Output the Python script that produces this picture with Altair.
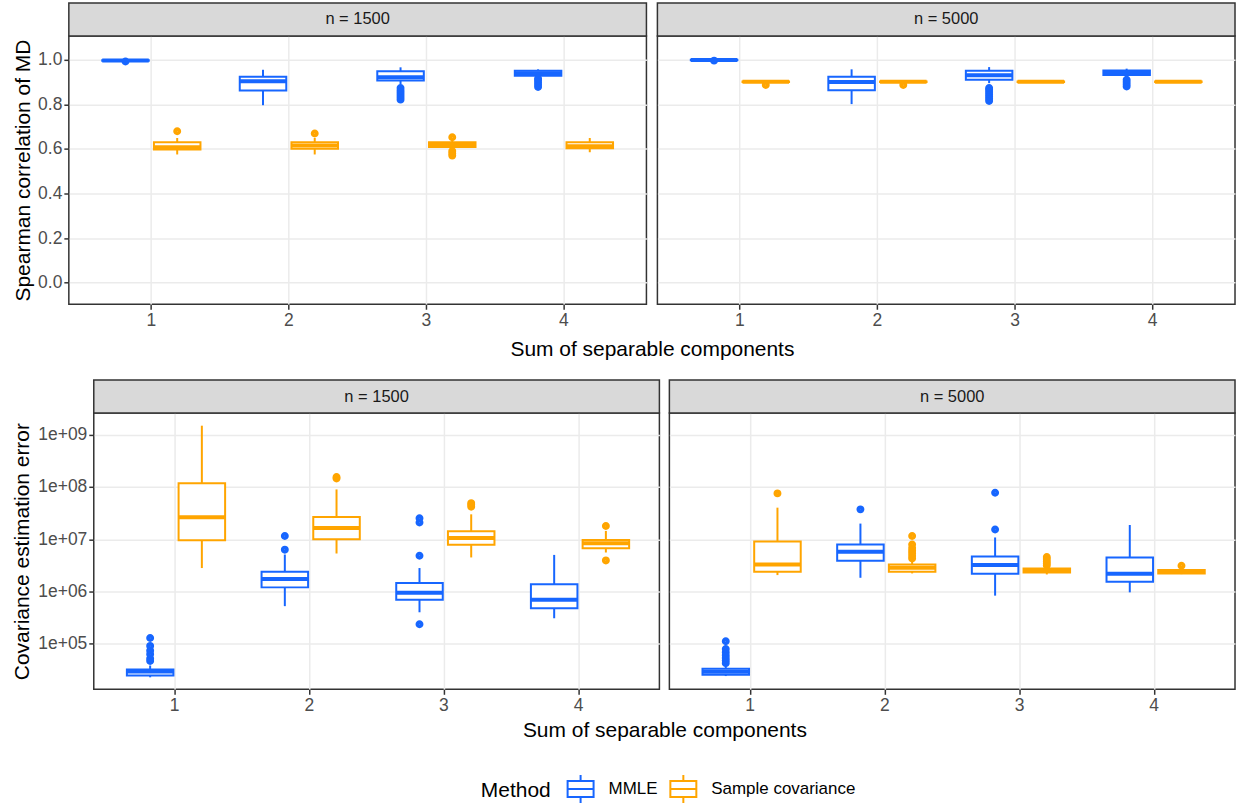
import altair as alt
import pandas as pd

# ---------------- data ----------------
COMPS = [1, 2, 3, 4]
METHODS = ["MMLE", "Sample covariance"]
NS = ["n = 1500", "n = 5000"]
COLORS = ["#1766FF", "#FFA500"]

# Spearman correlation of MD: box statistics per component 1..4
sp_1500_mmle = dict(lo=[0.993, 0.796, 0.890, 0.920], q1=[0.995, 0.862, 0.907, 0.928],
                    med=[0.997, 0.904, 0.921, 0.939], q3=[0.998, 0.924, 0.948, 0.951],
                    hi=[1.000, 0.955, 0.966, 0.957],
                    out=[[0.992], [], [0.821, 0.832, 0.842, 0.852, 0.862, 0.873], [0.878, 0.888, 0.898, 0.908, 0.916]])
sp_1500_samp = dict(lo=[0.575, 0.575, 0.600, 0.585], q1=[0.597, 0.601, 0.609, 0.603],
                    med=[0.607, 0.615, 0.619, 0.612], q3=[0.630, 0.630, 0.630, 0.630],
                    hi=[0.649, 0.649, 0.640, 0.649],
                    out=[[0.679], [0.669], [0.652, 0.590, 0.580, 0.570], []])
sp_5000_mmle = dict(lo=[0.996, 0.801, 0.895, 0.925], q1=[0.998, 0.863, 0.910, 0.931],
                    med=[0.999, 0.900, 0.930, 0.942], q3=[1.000, 0.924, 0.951, 0.952],
                    hi=[1.000, 0.957, 0.967, 0.960],
                    out=[[0.996], [], [0.815, 0.825, 0.835, 0.845, 0.855, 0.865, 0.873], [0.880, 0.890, 0.900, 0.910]])
sp_5000_samp = dict(lo=[0.898, 0.898, 0.898, 0.898], q1=[0.900, 0.900, 0.900, 0.900],
                    med=[0.901, 0.901, 0.901, 0.901], q3=[0.902, 0.902, 0.902, 0.902],
                    hi=[0.903, 0.903, 0.904, 0.904],
                    out=[[0.887], [0.887], [], []])

# Covariance estimation error: box statistics per component 1..4
ce_1500_mmle = dict(lo=[2.29e4, 5.25e5, 4.01e5, 3.08e5], q1=[2.48e4, 1.20e6, 6.98e5, 4.78e5],
                    med=[2.95e4, 1.74e6, 9.51e5, 6.98e5], q3=[3.24e4, 2.39e6, 1.45e6, 1.37e6],
                    hi=[3.85e4, 5.09e6, 2.81e6, 5.01e6],
                    out=[[4.68e4, 5.25e4, 6.31e4, 7.41e4, 9.12e4, 1.29e5], [6.31e6, 1.15e7],
                         [2.37e5, 4.82e6, 2.09e7, 2.51e7], []])
ce_1500_samp = dict(lo=[2.81e6, 5.33e6, 4.48e6, 5.57e6], q1=[9.57e6, 1.00e7, 7.80e6, 6.75e6],
                    med=[2.62e7, 1.64e7, 1.06e7, 8.39e6], q3=[1.17e8, 2.66e7, 1.42e7, 9.70e6],
                    hi=[1.48e9, 8.95e7, 2.99e7, 1.44e7],
                    out=[[], [1.45e8, 1.55e8], [4.17e7, 4.57e7, 4.90e7], [3.93e6, 1.79e7]])
ce_5000_mmle = dict(lo=[2.42e4, 1.83e6, 8.34e5, 9.64e5], q1=[2.57e4, 3.86e6, 2.19e6, 1.54e6],
                    med=[2.93e4, 5.74e6, 3.20e6, 2.19e6], q3=[3.34e4, 7.91e6, 4.68e6, 4.48e6],
                    hi=[3.86e4, 1.99e7, 1.08e7, 1.87e7],
                    out=[[4.27e4, 4.79e4, 5.37e4, 6.03e4, 6.92e4, 7.94e4, 1.12e5], [3.72e7],
                         [1.53e7, 7.74e7], []])
ce_5000_samp = dict(lo=[2.06e6, 2.22e6, 2.12e6, 2.15e6], q1=[2.39e6, 2.39e6, 2.32e6, 2.22e6],
                    med=[3.29e6, 2.84e6, 2.53e6, 2.39e6], q3=[9.04e6, 3.29e6, 2.76e6, 2.57e6],
                    hi=[4.01e7, 3.86e6, 2.88e6, 2.69e6],
                    out=[[7.52e7], [4.27e6, 4.79e6, 5.37e6, 6.03e6, 6.76e6, 7.94e6, 1.15e7],
                         [3.16e6, 3.47e6, 3.80e6, 4.17e6, 4.57e6], [3.10e6]])

SP_TICKS = [0.0, 0.2, 0.4, 0.6, 0.8, 1.0]
CE_TICKS = [1e5, 1e6, 1e7, 1e8, 1e9]
X_TITLE = "Sum of separable components"


def table(groups):
    rows = []
    for n, method, st in groups:
        for i, c in enumerate(COMPS):
            rows.append(dict(n=n, method=method, comp=c, lo=st["lo"][i], q1=st["q1"][i],
                             med=st["med"][i], q3=st["q3"][i], hi=st["hi"][i], out=st["out"][i]))
    return pd.DataFrame(rows)


sp_df = table([(NS[0], METHODS[0], sp_1500_mmle), (NS[0], METHODS[1], sp_1500_samp),
               (NS[1], METHODS[0], sp_5000_mmle), (NS[1], METHODS[1], sp_5000_samp)])
ce_df = table([(NS[0], METHODS[0], ce_1500_mmle), (NS[0], METHODS[1], ce_1500_samp),
               (NS[1], METHODS[0], ce_5000_mmle), (NS[1], METHODS[1], ce_5000_samp)])

FONT = "Liberation Sans"
STRIP_H = 33

LEGEND = alt.Legend(
    orient="none", direction="horizontal", titleOrient="left", legendX=475, legendY=740,
    symbolType="M-0.93,-0.57H0.93V0.57H-0.93Z M-0.93,0H0.93 M0,-0.57V-1 M0,0.57V1",
    symbolSize=784, symbolStrokeWidth=2, symbolFillColor="white", symbolOpacity=1,
    labelFontSize=17, titleFontSize=21, labelFont=FONT, titleFont=FONT, titlePadding=14,
    labelOffset=13, columnPadding=7, titleFontWeight="normal", titleColor="black",
    labelColor="black", titleBaseline="middle")


def panel(df, n, W, H, spacing, ytitle, yscale, yaxis, xtitle, xpad):
    base = alt.Chart(df).transform_filter(alt.datum.n == n)
    xaxis_kw = dict(labelAngle=0, grid=True, bandPosition=0.5, titlePadding=xpad)
    if xtitle:
        xaxis_kw.update(titleX=W + spacing / 2, titleAlign="center", titleAnchor="middle")
    x = alt.X("comp:O", title=xtitle,
              scale=alt.Scale(paddingInner=0, paddingOuter=0.1),
              axis=alt.Axis(**xaxis_kw))
    xo = alt.XOffset("method:N", scale=alt.Scale(domain=METHODS, paddingInner=0.1, paddingOuter=0.38))
    stroke = alt.Stroke("method:N", title="Method",
                        scale=alt.Scale(domain=METHODS, range=COLORS), legend=LEGEND)
    ylo = alt.Y("lo:Q", title=ytitle, scale=yscale, axis=yaxis)

    whisk = base.mark_rule(strokeWidth=2).encode(x=x, xOffset=xo, y=ylo, y2="hi:Q", stroke=stroke)
    box = base.mark_bar(fill="white", strokeWidth=2).encode(
        x=x, xOffset=xo, y="q1:Q", y2="q3:Q", stroke=stroke)
    med = base.mark_bar(fill="white", fillOpacity=0, strokeWidth=4).encode(
        x=x, xOffset=xo, y="med:Q", y2="med:Q", stroke=stroke)
    pts = base.transform_flatten(["out"]).mark_point(
        shape="circle", filled=False, size=14, strokeWidth=4.2, opacity=1
    ).encode(x=x, xOffset=xo, y="out:Q", stroke=stroke)
    agg = base.transform_aggregate(cnt="count()", groupby=["n"])
    strip = agg.mark_rect(fill="#D9D9D9", stroke="#333333", strokeWidth=1.5).encode(
        x=alt.value(0), x2=alt.value(W), y=alt.value(-STRIP_H), y2=alt.value(0))
    strip_txt = agg.mark_text(fontSize=16.5, color="#1A1A1A", font=FONT, baseline="middle").encode(
        text="n:N", x=alt.value(W / 2), y=alt.value(-STRIP_H / 2))
    return alt.layer(whisk, box, med, pts, strip, strip_txt).properties(width=W, height=H)


SPACER = alt.Chart(pd.DataFrame({"v": [0]})).mark_point(opacity=0).encode(
    x=alt.X("v:Q", axis=None), y=alt.Y("v:Q", axis=None)
).properties(width=1, height=1, view=alt.ViewBackground(stroke="transparent"))


def row(df, W, H, spacing, ytitle, yscale, axis_kw, xpad):
    left = panel(df, NS[0], W, H, spacing, ytitle, yscale, alt.Axis(grid=True, **axis_kw), X_TITLE, xpad)
    right = panel(df, NS[1], W, H, spacing, None, yscale,
                  alt.Axis(grid=True, labels=False, ticks=False, values=axis_kw["values"]), None, xpad)
    inner = alt.hconcat(left, right, spacing=spacing, bounds="flush")
    return alt.hconcat(SPACER, inner, spacing=0)


top = row(sp_df, 579, 269, 11, "Spearman correlation of MD",
          alt.Scale(domain=[-0.097, 1.107], nice=False, zero=False),
          dict(values=SP_TICKS, format=".1f", titlePadding=4), 10)
bottom = row(ce_df, 567, 277, 10, "Covariance estimation error",
             alt.Scale(type="log", domain=[1.35e4, 2.59e9], nice=False),
             dict(values=CE_TICKS, labelExpr="'1e+0' + round(log(datum.value) / LN10)"), 6)

chart = alt.vconcat(top, bottom, spacing=17).configure(
    font=FONT, padding={"left": 4, "top": 0, "right": 2, "bottom": 0}
).configure_view(stroke="#333333", strokeWidth=1.5).configure_axis(
    gridColor="#EBEBEB", gridWidth=1.5, tickColor="#333333", tickWidth=1.5, tickSize=5,
    labelColor="#4D4D4D", labelFontSize=17.5, labelFont=FONT, labelPadding=2,
    titleFontSize=21, titleFont=FONT, titleFontWeight="normal", titleColor="black",
    domain=False, titlePadding=5)

chart.save("out.html", embed_options={"renderer": "svg", "actions": False})
